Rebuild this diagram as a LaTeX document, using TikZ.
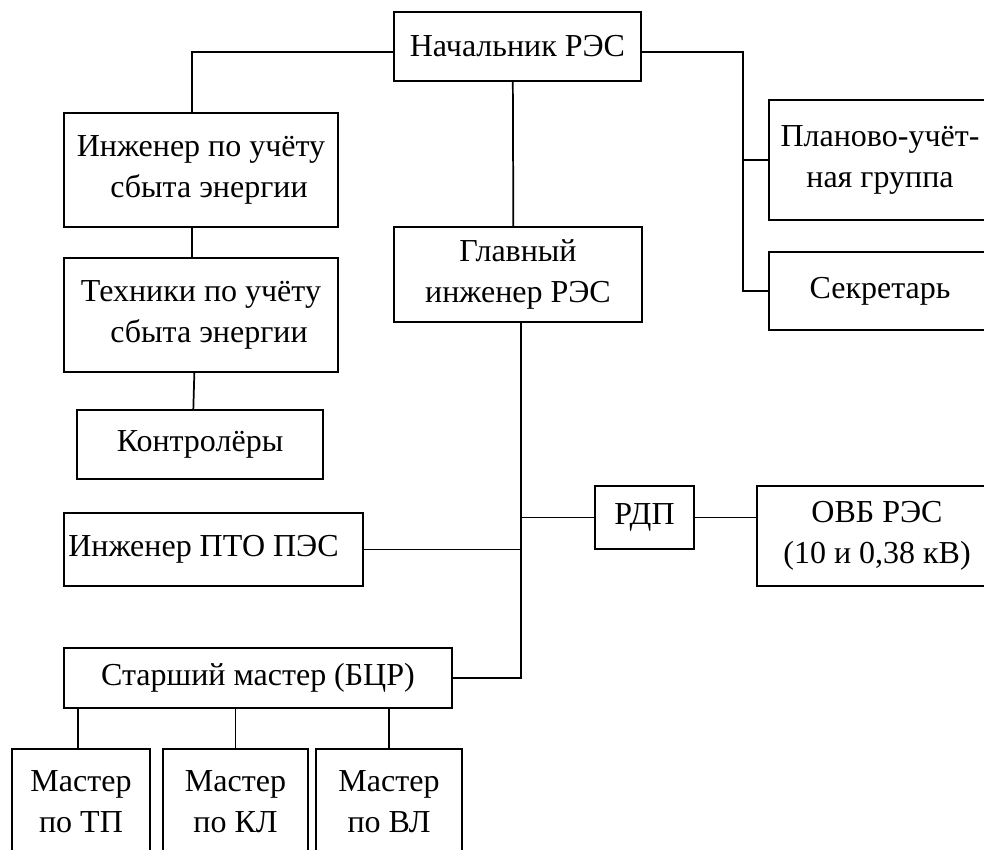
\documentclass[tikz,border=0pt]{standalone}
\usepackage{fontspec}
\setmainfont{Liberation Serif}
\usetikzlibrary{positioning}

\tikzset{
  box/.style={draw, line width=1.3pt, align=center, inner sep=0pt,
    font=\fontsize{24}{31}\selectfont},
  link/.style={line width=1.3pt}
}

\begin{document}
\begin{tikzpicture}[x=0.75pt, y=-0.75pt]
\useasboundingbox (0,0) rectangle (984,849);
\clip (0,0) rectangle (984,849);

% Blocks
\node[box, minimum width=185.25pt, minimum height=51.75pt] (nach) at (517.5,46.5) {Начальник РЭС};
\node[box, minimum width=205.5pt, minimum height=85.5pt] (inzh) at (201,170) {Инженер по учёту\\ \ \ сбыта энергии};
\node[box, minimum width=205.5pt, minimum height=85.5pt] (tech) at (201,315) {Техники по учёту\\ \ \ сбыта энергии};
\node[box, minimum width=184.5pt, minimum height=51.75pt] (kontr) at (200,444.5) {Контролёры};
\node[box, minimum width=224.25pt, minimum height=54.75pt] (pto) at (213.5,549.5) {Инженер ПТО ПЭС\hspace*{15pt}};
\node[box, minimum width=186pt, minimum height=71.25pt] (glav) at (518,274.5) {Главный\\инженер РЭС};
\node[box, minimum width=166.5pt, minimum height=90pt] (plan) at (880,160) {Планово-учёт-\\ная группа};
\node[box, minimum width=166.5pt, minimum height=58.5pt] (sekr) at (880,291) {Секретарь};
\node[box, minimum width=74.25pt, minimum height=47.25pt] (rdp) at (644.5,517.5) {РДП};
\node[box, minimum width=180pt, minimum height=75pt] (ovb) at (877,536) {ОВБ РЭС\\(10 и 0,38 кВ)};
\node[box, minimum width=291pt, minimum height=45pt] (star) at (258,678) {Старший мастер (БЦР)};
\node[box, minimum width=103.5pt, minimum height=79.5pt] (m1) at (81,802) {Мастер\\по ТП};
\node[box, minimum width=108.75pt, minimum height=79.5pt] (m2) at (235.5,802) {Мастер\\по КЛ};
\node[box, minimum width=109.5pt, minimum height=79.5pt] (m3) at (389,802) {Мастер\\по ВЛ};

% Buses
\coordinate (pbus) at (743,0);
\coordinate (gbus) at (521,0);

% Links
\draw[link] ([yshift=-4pt]nach.west) -| ([xshift=-6.75pt]inzh.north);
\draw[link] ([xshift=-6.75pt]inzh.south) -- ([xshift=-6.75pt]tech.north);
\draw[link] ([xshift=-5pt]tech.south) -- ([xshift=-5pt]kontr.north);
\draw[link] ([xshift=-3.5pt]nach.south) -- ([xshift=-3.5pt]glav.north);
\draw[link] ([yshift=-4pt]nach.east) -| (pbus |- sekr.west) -- (sekr.west);
\draw[link] (pbus |- plan.west) -- (plan.west);
\draw[link] ([xshift=2.25pt]glav.south) -- (gbus |- star.east) -- (star.east);
\draw[link] (gbus |- rdp.west) -- (rdp.west);
\draw[link] (rdp.east) -- (rdp.east -| ovb.west);
\draw[link] (pto.east) -- (pto.east -| gbus);
\draw[link] ([xshift=-2.25pt]star.south -| m1.north) -- ([xshift=-2.25pt]m1.north);
\draw[link] (star.south -| m2.north) -- (m2.north);
\draw[link] (star.south -| m3.north) -- (m3.north);
\end{tikzpicture}
\end{document}
